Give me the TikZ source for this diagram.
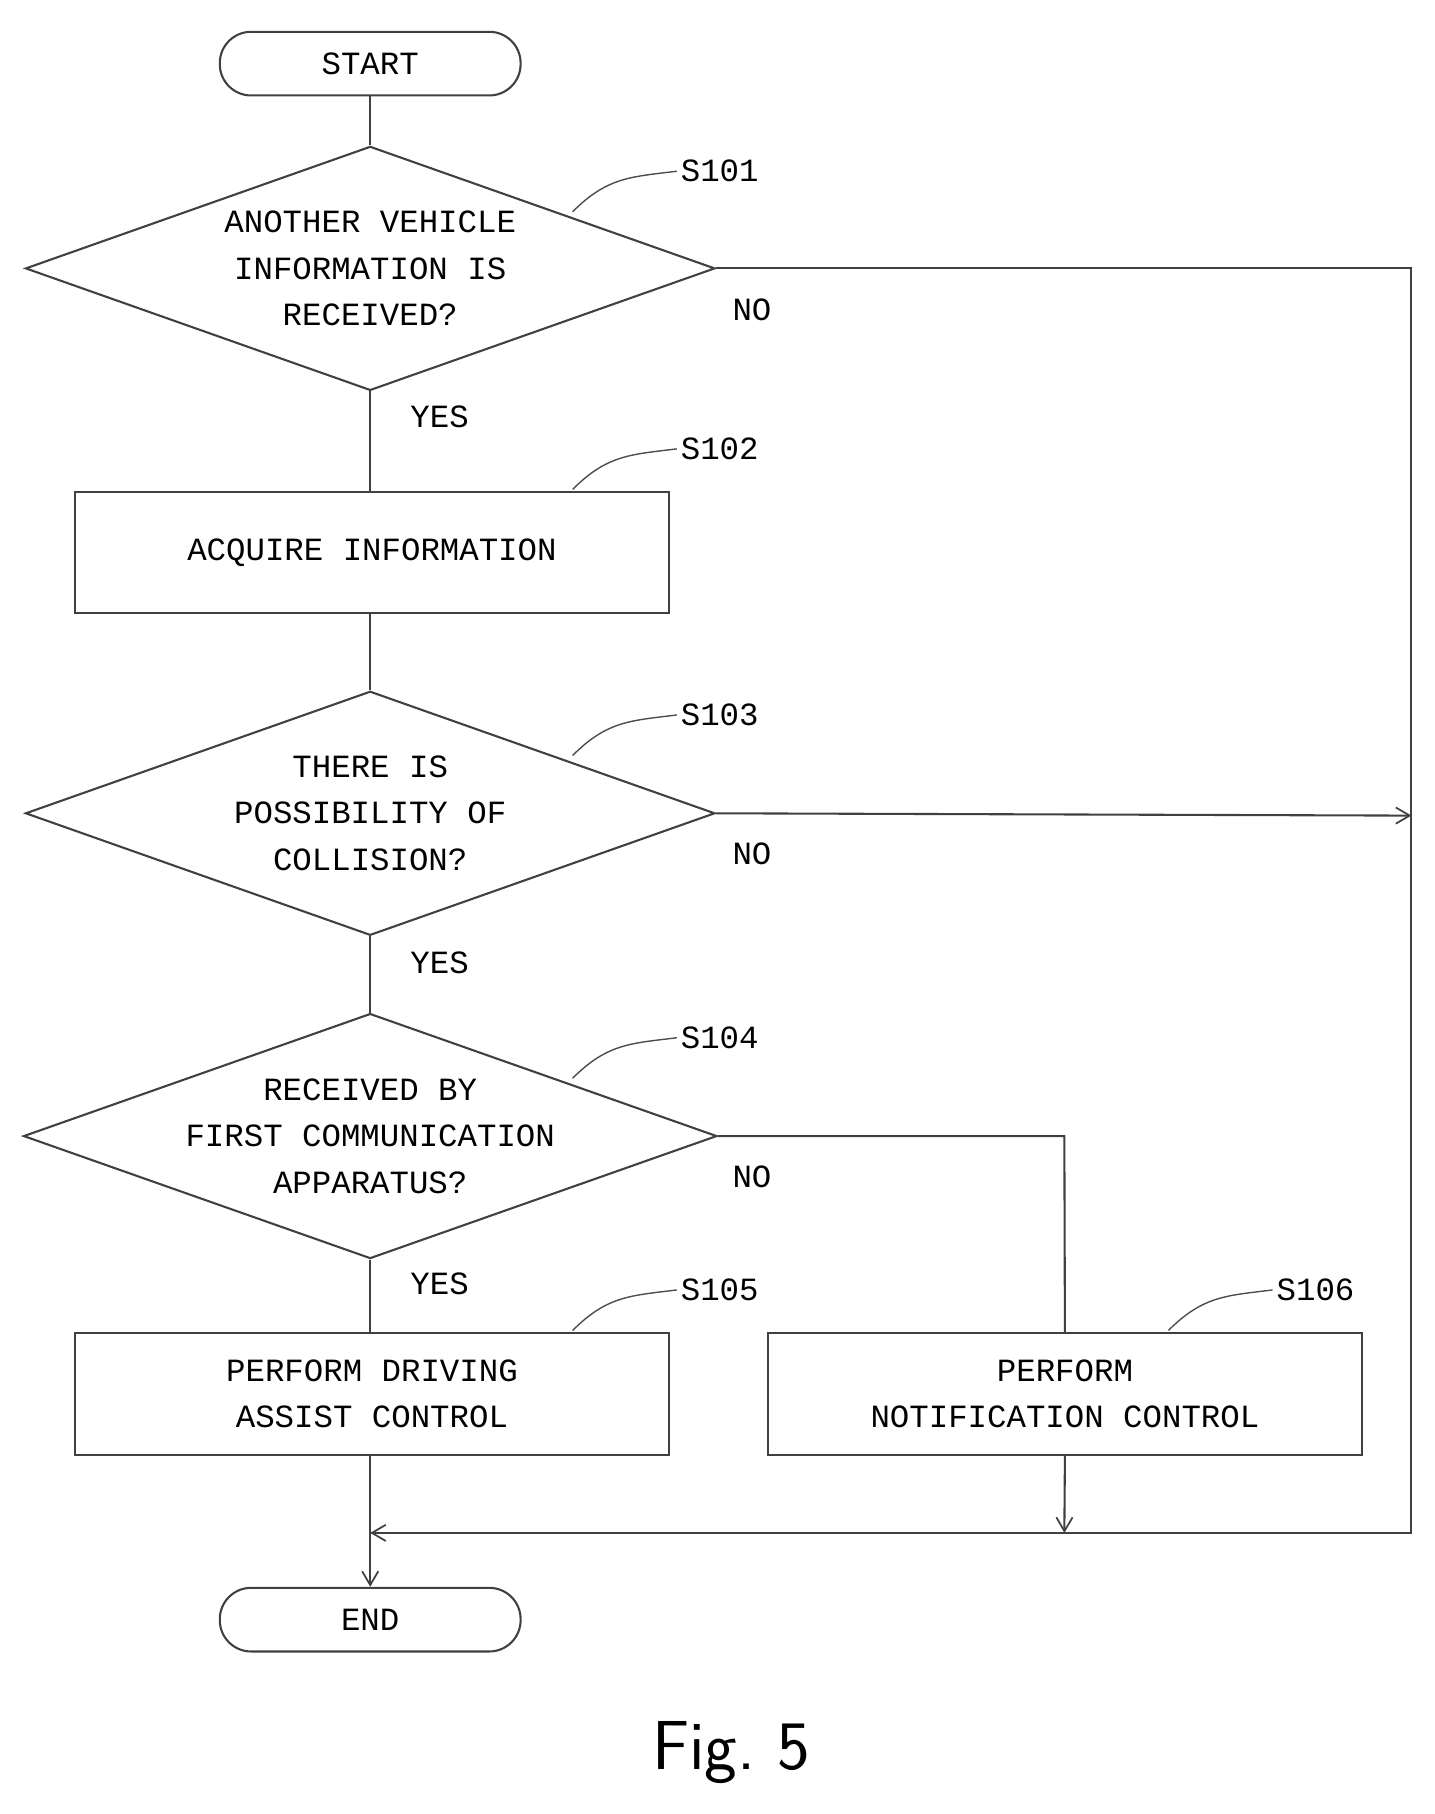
\documentclass[tikz,border=0pt]{standalone}
\usepackage{fontspec}
\setmainfont{Liberation Mono}
\usetikzlibrary{shapes.geometric,arrows.meta}
\begin{document}
\begin{tikzpicture}[x=1pt,y=-1pt,
  every node/.style={font=\fontsize{28}{40}\selectfont},
  ln/.style={line width=1.8pt,draw=black!75},
  arr/.style={ln,-{Straight Barb[length=12pt,width=14pt,line width=1.5pt]}},
  term/.style={ln,rounded corners=27pt,minimum width=260pt,minimum height=55pt},
  dec/.style={ln,diamond,aspect=2.83,minimum width=596pt,minimum height=211pt,inner sep=0pt,align=center},
  box/.style={ln,rectangle,minimum width=513pt,minimum height=105pt,align=center},
  lab/.style={font=\fontsize{28}{30}\selectfont},
  lead/.style={line width=1.2pt,draw=black!70}]
\useasboundingbox (0,0) rectangle (1240,1568);
\node[term] (start) at (320,55) {START};
\node[dec] (d1) at (320,232) {ANOTHER VEHICLE\\INFORMATION IS\\RECEIVED?};
\node[box] (b2) at (321.5,477.5) {ACQUIRE INFORMATION};
\node[dec] (d3) at (320,703) {THERE IS\\POSSIBILITY OF\\COLLISION?};
\node[dec] (d4) at (320,982) {RECEIVED BY\\FIRST COMMUNICATION\\APPARATUS?};
\node[box] (b5) at (321.5,1205) {PERFORM DRIVING\\ASSIST CONTROL};
\node[box] (b6) at (920.5,1205) {PERFORM\\NOTIFICATION CONTROL};
\node[term] (end) at (320,1400) {END};
\node[font=\fontsize{60}{60}\selectfont\sffamily] (fig) at (632,1515) {Fig.~5};
% step labels
\node[lab,anchor=west] (l1) at (585,148) {S101};
\node[lab,anchor=west] (l2) at (585,388) {S102};
\node[lab,anchor=west] (l3) at (585,618) {S103};
\node[lab,anchor=west] (l4) at (585,897) {S104};
\node[lab,anchor=west] (l5) at (585,1115) {S105};
\node[lab,anchor=west] (l6) at (1100,1115) {S106};
\foreach \a/\b/\y in {495/l1/148,495/l2/388,495/l3/618,495/l4/897,495/l5/1115,1010/l6/1115}{
  \draw[lead] (\a,\y+35) .. controls (\a+30,\y+5) and (\a+50,\y+5) .. (\b.west);}
% yes/no
\node[lab] (y1) at (380,360) {YES};
\node[lab] (y3) at (380,832) {YES};
\node[lab] (y4) at (380,1110) {YES};
\node[lab] (n1) at (650,268) {NO};
\node[lab] (n3) at (650,738) {NO};
\node[lab] (n4) at (650,1017) {NO};
% connectors
\coordinate (rtop) at (1220,232);
\coordinate (rmid) at (1220,705);
\coordinate (rbot) at (1220,1325);
\coordinate (m6) at (920,1325);
\coordinate (mc) at (320,1325);
\coordinate (k4) at (920,982);
\draw[ln] (start) -- (d1.north);
\draw[ln] (d1.south) -- (b2.north -| d1.south);
\draw[ln] (b2.south -| d1.south) -- (d3.north);
\draw[ln] (d3.south) -- (d4.north);
\draw[ln] (d4.south) -- (b5.north -| d4.south);
\draw[ln] (d1.east) -- (rtop) -- (rbot) -- (mc);
\draw[arr] (d3.east) -- (rmid);
\draw[arr] (m6) ++(200,0) -- (mc);
\draw[ln] (d4.east) -- (k4) -- (b6.north);
\draw[arr] (b6.south) -- (m6);
\draw[arr] (b5.south -| d4.south) -- (end.north);
\end{tikzpicture}
\end{document}
